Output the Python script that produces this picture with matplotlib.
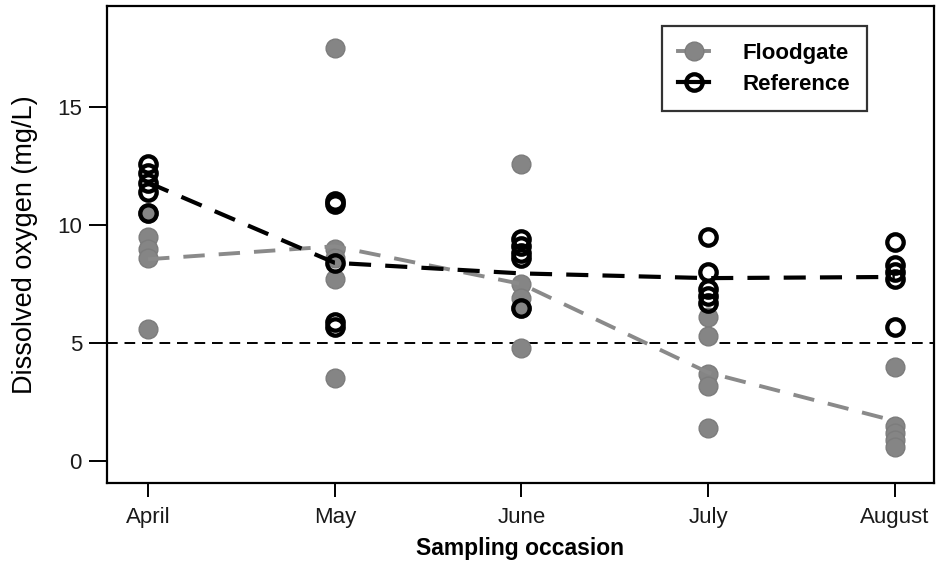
import matplotlib
matplotlib.use("Agg")
import matplotlib.pyplot as plt
from matplotlib.lines import Line2D

plt.rcParams['font.family'] = ['Liberation Sans', 'DejaVu Sans']

months = ['April', 'May', 'June', 'July', 'August']

floodgate_april = [10.5, 9.5, 9.0, 8.6, 5.6]
floodgate_may = [17.5, 9.0, 8.6, 7.7, 3.5]
floodgate_june = [12.6, 7.5, 6.9, 6.5, 4.8]
floodgate_july = [6.1, 5.3, 3.7, 3.2, 1.4]
floodgate_august = [4.0, 1.5, 1.2, 0.9, 0.6]

reference_april = [12.6, 12.2, 11.8, 11.4, 10.5]
reference_may = [11.0, 10.9, 8.4, 5.9, 5.7]
reference_june = [9.4, 9.1, 8.8, 8.6, 6.5]
reference_july = [9.5, 8.0, 7.3, 7.0, 6.7]
reference_august = [9.3, 8.3, 8.0, 7.7, 5.7]

floodgate_trend = [8.55, 9.1, 7.5, 3.75, 1.7]
reference_trend = [11.8, 8.4, 7.95, 7.75, 7.8]

threshold = 5

floodgate = [floodgate_april, floodgate_may, floodgate_june, floodgate_july, floodgate_august]
reference = [reference_april, reference_may, reference_june, reference_july, reference_august]

GREY = '#858585'

fig = plt.figure(figsize=(9.37, 5.67), dpi=100)
ax = fig.add_axes([107/937, 84/567, (934-107)/937, (483-6)/567])

xs = list(range(1, len(months) + 1))

for x, vals in zip(xs, floodgate):
    ax.plot([x]*len(vals), vals, 'o', ls='none', ms=13.5, color=GREY,
            mec='#7c7c7c', mew=1.0, zorder=2)
for x, vals in zip(xs, reference):
    ax.plot([x]*len(vals), vals, 'o', ls='none', ms=11.8, mfc='none',
            mec='black', mew=3.1, zorder=3)

ax.plot(xs, floodgate_trend, color='#8a8a8a', lw=2.8, dashes=(5.5, 3.6), zorder=4)
ax.plot(xs, reference_trend, color='black', lw=3.0, dashes=(5.3, 3.4), zorder=5)

ax.axhline(threshold, color='black', lw=1.4, dashes=(5.5, 3.5), zorder=1)

ax.set_xlim(0.78, 5.21)
ax.set_ylim(-0.93, 19.28)
ax.set_xticks(xs)
ax.set_xticklabels(months)
ax.set_yticks([0, 5, 10, 15])

for s in ax.spines.values():
    s.set_linewidth(1.6)
ax.tick_params(axis='both', direction='out', width=1.4,
               labelsize=16, color='black', labelcolor='#1a1a1a')
ax.tick_params(axis='y', length=13, pad=5)
ax.tick_params(axis='x', length=10, pad=7)

ax.set_xlabel('Sampling occasion', fontsize=16.5, fontweight='bold', labelpad=7)
ax.set_ylabel('Dissolved oxygen (mg/L)', fontsize=19.5, labelpad=14)

handles = [
    Line2D([], [], color='#8a8a8a', lw=2.8, marker='o', ms=13.5, mfc=GREY,
           mec='#7c7c7c', mew=1.0),
    Line2D([], [], color='black', lw=3.0, marker='o', ms=11.8, mfc='none',
           mec='black', mew=3.1),
]
leg = ax.legend(handles, ['Floodgate', 'Reference'], loc='upper right',
                bbox_to_anchor=((867-107)/(934-107), (483-26)/(483-6)),
                frameon=True, fancybox=False, edgecolor='black',
                prop={'weight': 'bold', 'size': 16}, handlelength=1.4,
                handletextpad=1.5, borderpad=0.75, labelspacing=0.45,
                borderaxespad=0)
leg.get_frame().set_linewidth(1.6)

fig.savefig('out.png', dpi=100)
